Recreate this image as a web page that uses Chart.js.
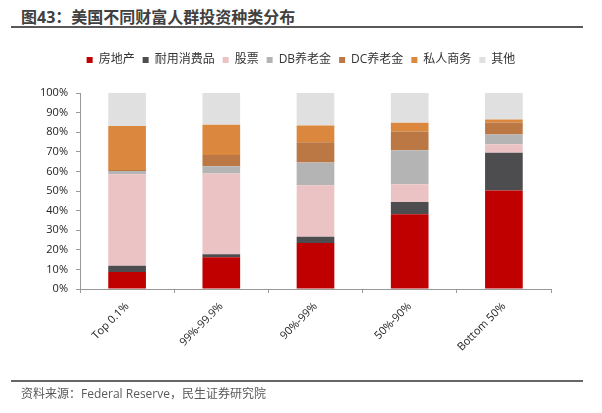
<!DOCTYPE html>
<html>
<head>
<meta charset="utf-8">
<script src="https://cdn.jsdelivr.net/npm/chart.js@4"></script>
<style>
  html, body { margin: 0; padding: 0; background: #fff; }
  body { width: 602px; height: 413px; position: relative; overflow: hidden;
         font-family: 'Open Sans', 'Noto Sans CJK SC', sans-serif; }
  #title { position: absolute; left: 21px; top: 6px; font-size: 16px; font-weight: bold;
           color: #404040; white-space: nowrap; line-height: 22px; }
  #topline { position: absolute; left: 11px; top: 26px; width: 572px; height: 2px; background: #595959; }
  #bottomline { position: absolute; left: 11px; top: 380px; width: 572px; height: 2px; background: #666; }
  #source { position: absolute; left: 21px; top: 385px; font-size: 12px; color: #595959;
            white-space: nowrap; line-height: 18px; }
  #wrap { position: absolute; left: 0; top: 0; width: 602px; height: 413px; }
</style>
</head>
<body>
<div id="title">图43：美国不同财富人群投资种类分布</div>
<div id="topline"></div>
<div id="wrap"><canvas id="chart"></canvas></div>
<div id="bottomline"></div>
<div id="source">资料来源：Federal Reserve，民生证券研究院</div>
<script>
'use strict';

var categories = ['Top 0.1%', '99%-99.9%', '90%-99%', '50%-90%', 'Bottom 50%'];
var realEstate = [8.7, 16.2, 23.5, 38.2, 50.2];
var durables = [3.2, 1.5, 3.1, 6.2, 19.3];
var stocks = [46.6, 41.2, 26.3, 9.0, 4.4];
var dbPension = [1.7, 3.7, 11.6, 17.4, 4.9];
var dcPension = [0.5, 5.8, 10.4, 9.6, 6.2];
var privateBiz = [22.5, 15.4, 8.5, 4.4, 1.5];
var other = [16.8, 16.2, 16.6, 15.2, 13.5];
var yTicks = [0, 10, 20, 30, 40, 50, 60, 70, 80, 90, 100];

var fontFamily = "'Open Sans', 'Noto Sans CJK SC', sans-serif";

var makeSet = function(label, data, color) {
    return {
        label: label,
        data: data,
        backgroundColor: color,
        borderWidth: 0,
        barPercentage: 0.4,
        categoryPercentage: 1.0
    };
};

// push the plot down below the legend, and centre the legend on the page
var legendSpacer = {
    id: 'legendSpacer',
    beforeInit: function(chart) {
        var fit = chart.legend.fit;
        chart.legend.fit = function() {
            fit.bind(chart.legend)();
            this.height += 17;
        };
    },
    afterLayout: function(chart) {
        chart.legend.left = 51;
    }
};

var ctx = document.getElementById('chart').getContext('2d');
window.myBar = new Chart(ctx, {
    type: 'bar',
    data: {
        labels: categories,
        datasets: [
            makeSet('房地产', realEstate, '#C00000'),
            makeSet('耐用消费品', durables, '#4D4D4F'),
            makeSet('股票', stocks, '#ECC3C4'),
            makeSet('DB养老金', dbPension, '#B4B4B4'),
            makeSet('DC养老金', dcPension, '#BB7844'),
            makeSet('私人商务', privateBiz, '#DC873E'),
            makeSet('其他', other, '#E0E0E0')
        ]
    },
    options: {
        responsive: true,
        maintainAspectRatio: false,
        animation: false,
        layout: {
            padding: { top: 46, left: 0, right: 51, bottom: 0 }
        },
        plugins: {
            legend: {
                position: 'top',
                labels: {
                    boxWidth: 6,
                    boxHeight: 6,
                    padding: 8,
                    color: '#333',
                    font: { family: fontFamily, size: 12 }
                }
            },
            title: { display: false },
            tooltip: { enabled: false }
        },
        scales: {
            x: {
                stacked: true,
                afterFit: function(scale) { scale.height = 124; },
                grid: {
                    drawOnChartArea: false,
                    drawTicks: true,
                    tickLength: 4,
                    color: '#999'
                },
                border: { display: true, color: '#999', width: 1 },
                ticks: {
                    minRotation: 45,
                    maxRotation: 45,
                    padding: 7,
                    color: '#222',
                    font: { family: fontFamily, size: 11 }
                }
            },
            y: {
                stacked: true,
                min: 0,
                max: 100,
                afterFit: function(scale) { scale.width = 80; },
                afterBuildTicks: function(scale) {
                    scale.ticks = yTicks.map(function(v) { return { value: v }; });
                },
                grid: {
                    drawOnChartArea: false,
                    drawTicks: true,
                    tickLength: 4,
                    color: '#999'
                },
                border: { display: true, color: '#999', width: 1 },
                ticks: {
                    padding: 8,
                    color: '#222',
                    font: { family: fontFamily, size: 11 },
                    callback: function(value) { return value + '%'; }
                }
            }
        }
    },
    plugins: [legendSpacer]
});
</script>
</body>
</html>
